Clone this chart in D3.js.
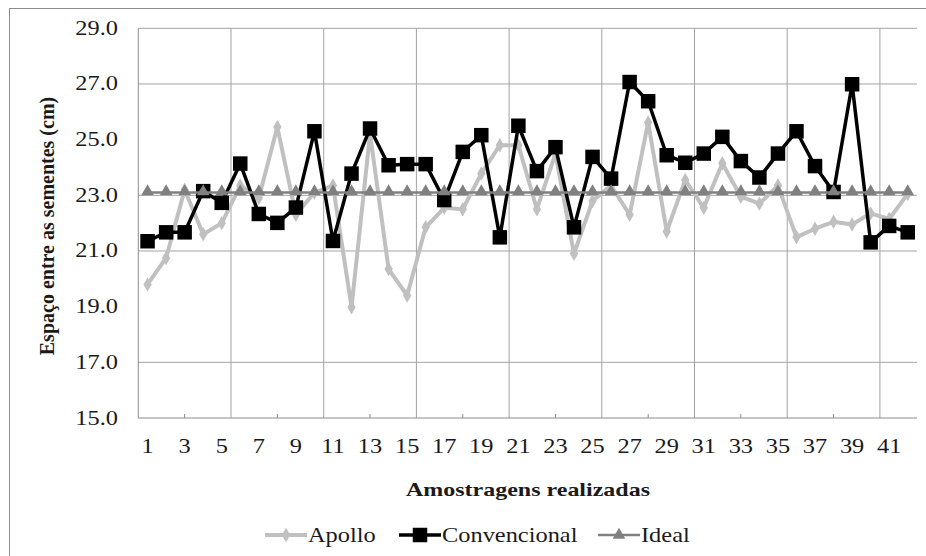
<!DOCTYPE html>
<html>
<head>
<meta charset="UTF-8">
<title>Espaço entre as sementes</title>
<script src="https://cdn.jsdelivr.net/npm/d3@7"></script>
</head>
<body style="margin:0">
<div id="chart"></div>
<script>
// values
const samples = d3.range(1, 43);
const apollo = [19.8, 20.75, 23.2, 21.6, 22.0, 23.35, 22.9, 25.45, 22.3, 23.1,
                23.35, 18.98, 25.2, 20.35, 19.4, 21.85, 22.55, 22.5, 23.78, 24.8,
                24.8, 22.5, 24.5, 20.9, 22.8, 23.35, 22.3, 25.62, 21.7, 23.55,
                22.55, 24.15, 22.95, 22.7, 23.35, 21.5, 21.8, 22.05, 21.95, 22.35,
                22.15, 23.05];
const convencional = [21.35, 21.67, 21.67, 23.15, 22.73, 24.14, 22.33, 22.01, 22.56, 25.3,
                      21.36, 23.78, 25.4, 24.08, 24.12, 24.12, 22.83, 24.56, 25.16, 21.49,
                      25.5, 23.87, 24.73, 21.85, 24.38, 23.6, 27.07, 26.38, 24.44, 24.17,
                      24.5, 25.1, 24.23, 23.64, 24.5, 25.3, 24.05, 23.12, 26.99, 21.31,
                      21.9, 21.67];
const ideal = samples.map(() => 23.1);
const yTicks = [15, 17, 19, 21, 23, 25, 27, 29];
const yGridShown = [17, 21, 23, 27, 29];
const xTickLabels = d3.range(1, 42, 2);
const seriesNames = ["Apollo", "Convencional", "Ideal"];

const W = 926, H = 556;
const plot = { left: 138.3, right: 917, top: 28.3, bottom: 418 };
const SX = 1.22; // the reference text is stretched horizontally

const svg = d3.select("#chart").append("svg").attr("width", W).attr("height", H);

// small helper so every label gets the same serif face
function label(sel) {
  return sel.style("font-family", "'Liberation Serif'").attr("fill", "#1a1a1a");
}

// outer frame
svg.append("rect").attr("x", 9.5).attr("y", 8.5).attr("width", W).attr("height", H)
   .attr("fill", "none").attr("stroke", "#8c8c8c");

const x = d3.scaleBand().domain(samples).range([plot.left, plot.right]).padding(0);
const cx = d => x(d) + x.bandwidth() / 2;
const y = d3.scaleLinear().domain([15, 29]).range([plot.bottom, plot.top]);

// grid
const grid = svg.append("g").attr("stroke", "#a3a3a3").attr("stroke-width", 1);
grid.selectAll("line.h").data(yGridShown).enter().append("line")
    .attr("x1", plot.left).attr("x2", plot.right)
    .attr("y1", d => y(d)).attr("y2", d => y(d));
grid.selectAll("line.v").data(d3.range(5, 41, 5)).enter().append("line")
    .attr("x1", d => x(d) + x.bandwidth()).attr("x2", d => x(d) + x.bandwidth())
    .attr("y1", plot.top).attr("y2", plot.bottom);

// axes lines and small ticks
const ax = svg.append("g").attr("stroke", "#8c8c8c").attr("stroke-width", 1);
ax.append("line").attr("x1", plot.left).attr("x2", plot.left).attr("y1", plot.top).attr("y2", plot.bottom);
ax.append("line").attr("x1", plot.left).attr("x2", plot.right).attr("y1", plot.bottom).attr("y2", plot.bottom);
ax.selectAll("line.t").data(d3.range(0, 8)).enter().append("line")
    .attr("x1", d => plot.left + (d * 5 + 2.5) * x.bandwidth())
    .attr("x2", d => plot.left + (d * 5 + 2.5) * x.bandwidth())
    .attr("y1", plot.bottom).attr("y2", plot.bottom - 4);

// tick labels
svg.append("g").selectAll("text").data(yTicks).enter().append("text")
   .attr("transform", d => `translate(118,${y(d) + 6.5}) scale(${SX},1)`)
   .attr("text-anchor", "end").attr("font-size", 20)
   .call(label)
   .text(d => d.toFixed(1));

svg.append("g").selectAll("text").data(xTickLabels).enter().append("text")
   .attr("transform", d => `translate(${cx(d)},453) scale(${SX},1)`)
   .attr("text-anchor", "middle").attr("font-size", 20)
   .call(label)
   .text(d => d);

// axis titles
svg.append("text")
   .attr("transform", `translate(54,226) rotate(-90)`)
   .attr("text-anchor", "middle").attr("font-size", 20).attr("font-weight", "bold")
   .call(label)
   .text("Espaço entre as sementes (cm)");
svg.append("text")
   .attr("x", 528).attr("y", 496)
   .attr("text-anchor", "middle").attr("font-size", 19).attr("font-weight", "bold")
   .attr("textLength", 244).attr("lengthAdjust", "spacingAndGlyphs")
   .call(label)
   .text("Amostragens realizadas");

// series
const line = d3.line().x((d, i) => cx(samples[i])).y(d => y(d));
const diamond = d3.symbol().type(d3.symbolDiamond).size(60);
const square = d3.symbol().type(d3.symbolSquare).size(210);
const triangle = d3.symbol().type(d3.symbolTriangle).size(70);

const styles = {
  Apollo: { data: apollo, color: "#c0c0c0", width: 4, sym: diamond },
  Convencional: { data: convencional, color: "#000000", width: 3.5, sym: square },
  Ideal: { data: ideal, color: "#808080", width: 2.5, sym: triangle }
};

seriesNames.forEach(name => {
  const s = styles[name];
  const g = svg.append("g");
  g.append("path").datum(s.data).attr("d", line)
   .attr("fill", "none").attr("stroke", s.color).attr("stroke-width", s.width)
   .attr("stroke-linejoin", "round");
  g.selectAll("path.m").data(s.data).enter().append("path")
   .attr("d", s.sym)
   .attr("transform", (d, i) => `translate(${cx(samples[i])},${y(d) - (name === "Ideal" ? 1 : 0)})`)
   .attr("fill", s.color);
});

// legend
const legendX = [265, 399, 598];
const leg = svg.append("g");
seriesNames.forEach((name, i) => {
  const s = styles[name];
  const x0 = legendX[i], yy = 535;
  leg.append("line").attr("x1", x0).attr("x2", x0 + 42).attr("y1", yy).attr("y2", yy)
     .attr("stroke", s.color).attr("stroke-width", s.width);
  leg.append("path").attr("d", s.sym).attr("transform", `translate(${x0 + 21},${yy})`).attr("fill", s.color);
  leg.append("text")
     .attr("transform", `translate(${x0 + 43},${yy + 7}) scale(${SX},1)`)
     .attr("font-size", 20)
     .call(label)
     .text(name);
});
</script>
</body>
</html>
